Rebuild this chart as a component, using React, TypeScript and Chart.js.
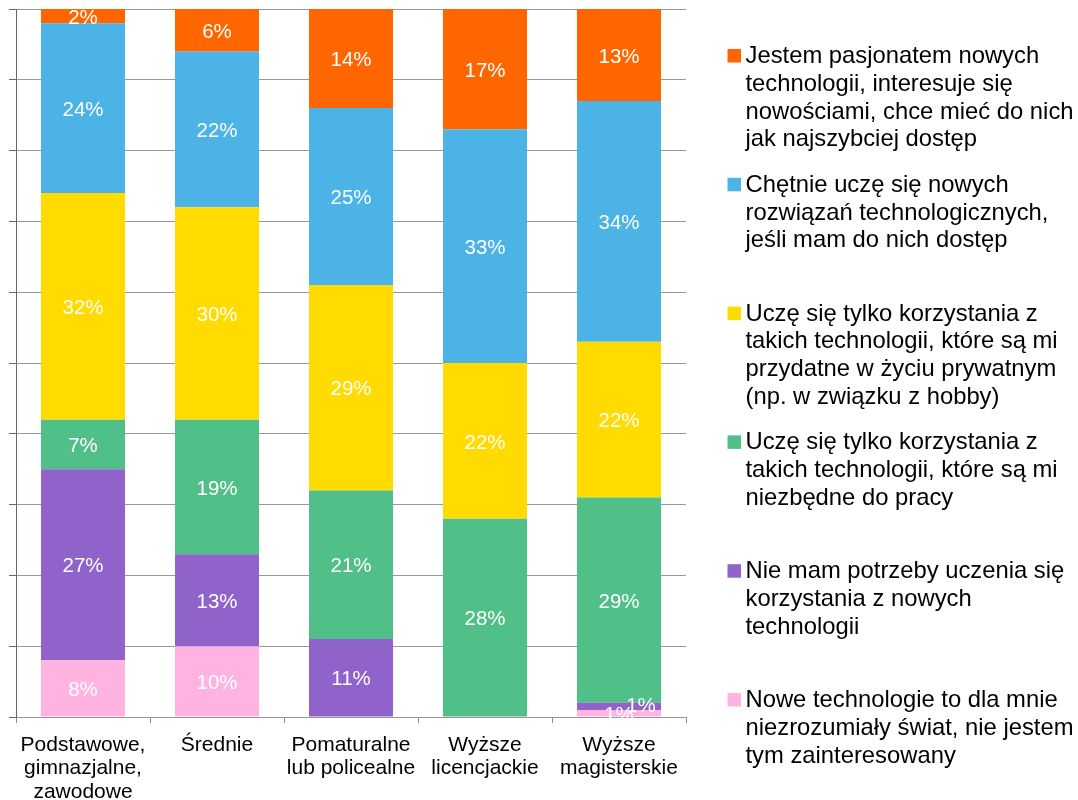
import React, { useEffect, useRef } from 'react';
import { Chart, registerables } from 'chart.js';

Chart.register(...registerables);

// ---------- DATA ----------
const categories: (string | string[])[] = [
  ['Podstawowe,', 'gimnazjalne,', 'zawodowe'],
  'Średnie',
  ['Pomaturalne', 'lub policealne'],
  ['Wyższe', 'licencjackie'],
  ['Wyższe', 'magisterskie'],
];

// series, bottom to top of the stack
const nowe = [8, 10, 0, 0, 1];
const nieMam = [27, 13, 11, 0, 1];
const niezbedne = [7, 19, 21, 28, 29];
const przydatne = [32, 30, 29, 22, 22];
const chetnie = [24, 22, 25, 33, 34];
const pasjonat = [2, 6, 14, 17, 13];

const legendNowe = ['Nowe technologie to dla mnie', 'niezrozumiały świat, nie jestem', 'tym zainteresowany'];
const legendNieMam = ['Nie mam potrzeby uczenia się', 'korzystania z nowych', 'technologii'];
const legendNiezbedne = ['Uczę się tylko korzystania z', 'takich technologii, które są mi', 'niezbędne do pracy'];
const legendPrzydatne = ['Uczę się tylko korzystania z', 'takich technologii, które są mi', 'przydatne w życiu prywatnym', '(np. w związku z hobby)'];
const legendChetnie = ['Chętnie uczę się nowych', 'rozwiązań technologicznych,', 'jeśli mam do nich dostęp'];
const legendPasjonat = ['Jestem pasjonatem nowych', 'technologii, interesuje się', 'nowościami, chce mieć do nich', 'jak najszybciej dostęp'];

const yTicks = [0, 10, 20, 30, 40, 50, 60, 70, 80, 90, 100];

const COLORS = {
  nowe: '#ffb3e0',
  nieMam: '#9063ca',
  niezbedne: '#50bf88',
  przydatne: '#ffdb00',
  chetnie: '#4bb3e5',
  pasjonat: '#ff6600',
};

const FONT = '"Liberation Sans", Arial, sans-serif';

const barLabelPlugin = {
  id: 'barLabels',
  afterDatasetsDraw(chart: any) {
    const ctx = chart.ctx as CanvasRenderingContext2D;
    ctx.save();
    ctx.font = `20.5px ${FONT}`;
    ctx.fillStyle = '#ffffff';
    ctx.textAlign = 'center';
    ctx.textBaseline = 'middle';
    const placed: Record<number, { x: number; y: number }[]> = {};
    chart.data.datasets.forEach((ds: any, di: number) => {
      const meta = chart.getDatasetMeta(di);
      meta.data.forEach((el: any, i: number) => {
        const v = ds.data[i] as number;
        if (!v) return;
        let x = el.x;
        let y = (el.y + el.base) / 2 + 2;
        const prev = placed[i] || (placed[i] = []);
        for (const p of prev) {
          if (Math.abs(p.y - y) < 14 && Math.abs(p.x - x) < 30) {
            x = p.x + 22;
            y = y - 2.5;
          }
        }
        prev.push({ x, y });
        ctx.fillText(`${v}%`, x, y);
      });
    });
    ctx.restore();
  },
};

const legendPlugin = {
  id: 'sideLegend',
  afterDraw(chart: any) {
    const ctx = chart.ctx as CanvasRenderingContext2D;
    ctx.save();
    ctx.font = `23.8px ${FONT}`;
    ctx.textAlign = 'left';
    ctx.textBaseline = 'alphabetic';
    const items = [...chart.data.datasets].reverse();
    items.forEach((ds: any, i: number) => {
      const baseY = 63 + i * 128.8;
      ctx.fillStyle = ds.backgroundColor;
      ctx.fillRect(727.5, baseY - 14, 13.5, 13.5);
      ctx.fillStyle = '#000000';
      (ds.legendLines as string[]).forEach((line, j) => {
        ctx.fillText(line, 745.5, baseY + j * 27.8);
      });
    });
    ctx.restore();
  },
};

export default function App() {
  const canvasRef = useRef<HTMLCanvasElement | null>(null);

  useEffect(() => {
    if (!canvasRef.current) return;
    const mk = (label: string[], data: number[], color: string) => ({
      label: label.join(' '),
      legendLines: label,
      data,
      backgroundColor: color,
      borderWidth: 0,
      categoryPercentage: 1,
      barPercentage: 0.627,
    });
    const chart = new Chart(canvasRef.current, {
      type: 'bar',
      data: {
        labels: categories,
        datasets: [
          mk(legendNowe, nowe, COLORS.nowe),
          mk(legendNieMam, nieMam, COLORS.nieMam),
          mk(legendNiezbedne, niezbedne, COLORS.niezbedne),
          mk(legendPrzydatne, przydatne, COLORS.przydatne),
          mk(legendChetnie, chetnie, COLORS.chetnie),
          mk(legendPasjonat, pasjonat, COLORS.pasjonat),
        ] as any,
      },
      options: {
        responsive: false,
        animation: false,
        layout: { padding: { top: 9, right: 392, left: 0, bottom: 0 } },
        plugins: {
          legend: { display: false },
          tooltip: { enabled: false },
          title: { display: false },
        },
        scales: {
          x: {
            stacked: true,
            offset: true,
            grid: {
              offset: true,
              drawOnChartArea: false,
              drawTicks: true,
              tickLength: 6,
              color: '#8c8c8c',
            },
            border: { display: true, color: '#999999' },
            ticks: {
              color: '#000000',
              font: { family: FONT, size: 21, lineHeight: 1.12 },
              padding: 10,
              maxRotation: 0,
              autoSkip: false,
            },
            afterFit: (s: any) => {
              s.height = 83;
            },
          },
          y: {
            stacked: true,
            min: 0,
            max: 100,
            afterBuildTicks: (s: any) => {
              s.ticks = yTicks.map((v) => ({ value: v }));
            },
            grid: {
              color: '#999999',
              drawTicks: true,
              tickLength: 7,
              tickColor: '#666666',
            },
            border: { display: true, color: '#666666' },
            ticks: { display: false },
            afterFit: (s: any) => {
              s.width = 16;
            },
          },
        },
      },
      plugins: [barLabelPlugin, legendPlugin],
    } as any);
    return () => chart.destroy();
  }, []);

  return (
    <div style={{ position: 'fixed', left: 0, top: 0, width: 1078, height: 800, background: '#ffffff' }}>
      <canvas ref={canvasRef} width={1078} height={800} style={{ display: 'block', width: 1078, height: 800 }} />
    </div>
  );
}
